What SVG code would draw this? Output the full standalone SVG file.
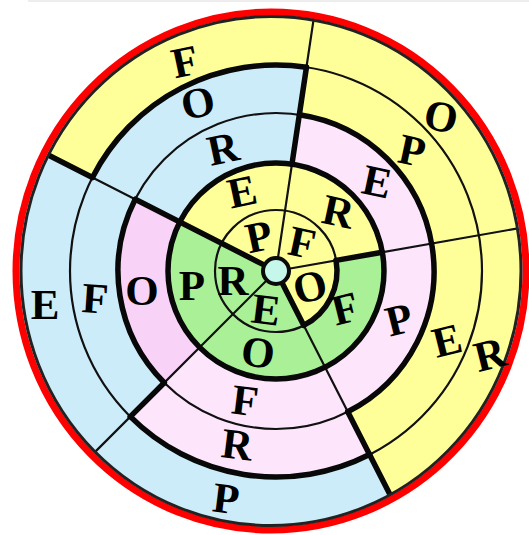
<svg xmlns="http://www.w3.org/2000/svg" width="529" height="535" viewBox="0 0 529 535">
<defs>
<style>
.cell{fill:none;stroke-linecap:butt}
.yo{stroke:#ffff99}.yi{stroke:#ffff99}.bl{stroke:#cdecf9}.pk{stroke:#fde6fb}.pk2{stroke:#f9d3f7}.gr{stroke:#aaf097}
.rA{stroke-width:49}.rB{stroke-width:48}.rC{stroke-width:51}.rD{stroke-width:49}.rE{stroke-width:60}
.thin{fill:none;stroke:#111;stroke-width:2.2}
.thick{fill:none;stroke:#080808;stroke-width:5.5;stroke-linecap:round}
text{font-family:"Liberation Serif","Times New Roman",serif;font-weight:bold;font-size:43px;text-anchor:middle;fill:#000}
</style>
<clipPath id="disk"><ellipse cx="271" cy="271" rx="250.5" ry="255"/></clipPath>
</defs>
<rect x="28" y="0" width="501" height="2" fill="#ededed"/>
<g clip-path="url(#disk)">
<g id="region-yellow-outer">
<path class="cell yo rE" d="M 65.72 163.86 A 236 236 0 1 1 383.14 481.28"/>
<path class="cell yo rD" d="M 302.90 91.00 A 182 182 0 0 1 358.63 433.16"/>
</g>
<g id="region-blue">
<path class="cell bl rE" d="M 383.14 481.28 A 236 236 0 0 1 65.72 163.86"/>
<path class="cell bl rD" d="M 147.31 399.69 A 182 182 0 0 1 302.90 91.00"/>
<path class="cell bl rC" d="M 157.50 210.62 A 133 133 0 0 1 295.66 139.46"/>
</g>
<g id="region-pink">
<path class="cell pk rD" d="M 358.63 433.16 A 182 182 0 0 1 147.31 399.69"/>
<path class="cell pk rC" d="M 295.66 139.46 A 133 133 0 1 1 181.96 365.04"/>
<path class="cell pk2 rC" d="M 181.96 365.04 A 133 133 0 0 1 157.50 210.62"/>
</g>
<g id="region-yellow-inner">
<path class="cell yi rB" d="M 200.71 232.64 A 84.5 84.5 0 0 1 359.22 256.33"/>
<path class="cell yi rA" d="M 243.03 254.20 A 37 37 0 1 1 292.80 303.97"/>
</g>
<g id="region-green">
<path class="cell gr rB" d="M 359.22 256.33 A 84.5 84.5 0 1 1 200.71 232.64"/>
<path class="cell gr rA" d="M 292.80 303.97 A 37 37 0 0 1 243.03 254.20"/>
</g>
<g id="connectors">
<circle class="thin" cx="276" cy="271" r="61"/>
<circle class="thin" cx="276" cy="271" r="158"/>
<circle class="thin" cx="276" cy="271" r="206"/>
<path class="thin" d="M 264.42 265.10 L 39.88 150.69 M 277.92 258.14 L 315.17 8.91 M 288.80 268.74 L 536.97 225.00 M 281.90 282.58 L 396.31 507.12 M 266.81 280.19 L 88.62 458.38"/>
<circle class="thick" cx="276" cy="271" r="108"/>
<path class="thick" d="M 336.07 260.41 A 61 61 0 0 1 303.69 325.35"/>
<path class="thick" d="M 299.35 114.74 A 158 158 0 0 1 347.73 411.78"/>
<path class="thick" d="M 164.28 382.72 A 158 158 0 0 1 135.22 199.27"/>
<path class="thick" d="M 92.45 177.48 A 206 206 0 0 1 306.45 67.27"/>
<path class="thick" d="M 369.52 454.55 A 206 206 0 0 1 130.34 416.66"/>
<path class="thick" d="M 39.88 150.69 L 92.45 177.48 M 135.22 199.27 L 264.42 265.10"/>
<path class="thick" d="M 306.45 67.27 L 291.96 164.19"/>
<path class="thick" d="M 336.07 260.41 L 382.36 252.25"/>
<path class="thick" d="M 396.31 507.12 L 347.73 411.78 M 303.69 325.35 L 281.90 282.58"/>
<path class="thick" d="M 164.28 382.72 L 130.34 416.66"/>
</g>
</g>
<g id="rim">
<ellipse cx="271" cy="271" rx="255" ry="259" fill="none" stroke="#ff0000" stroke-width="7"/>
<ellipse cx="271" cy="271" rx="250" ry="254.5" fill="none" stroke="#222" stroke-width="3"/>
</g>
<g id="hub">
<circle cx="276" cy="271" r="13" fill="#c5f7ea" stroke="#0a0a0a" stroke-width="4"/>
</g>
<g id="letters">
<g id="sector-1">
<text x="185" y="76" transform="rotate(-12 185 62)">F</text>
<text x="198" y="117" transform="rotate(-12 198 103)">O</text>
<text x="223" y="163" transform="rotate(-12 223 149)">R</text>
<text x="242" y="206" transform="rotate(-12 242 192)">E</text>
<text x="259" y="251" transform="rotate(-12 259 237)">P</text>
</g>
<g id="sector-2">
<text x="441" y="131" transform="rotate(12 441 117)">O</text>
<text x="412" y="165" transform="rotate(12 412 151)">P</text>
<text x="377" y="196" transform="rotate(12 377 182)">E</text>
<text x="338" y="226" transform="rotate(12 338 212)">R</text>
<text x="302" y="257" transform="rotate(12 302 243)">F</text>
</g>
<g id="sector-3">
<text x="490" y="369" transform="rotate(-14 490 355)">R</text>
<text x="447" y="355" transform="rotate(-14 447 341)">E</text>
<text x="399" y="334" transform="rotate(-14 399 320)">P</text>
<text x="345" y="323" transform="rotate(-14 345 309)">F</text>
<text x="310" y="301" transform="rotate(-14 310 287)">O</text>
</g>
<g id="sector-4">
<text x="226" y="513" transform="rotate(7 226 499)">P</text>
<text x="237" y="459" transform="rotate(7 237 445)">R</text>
<text x="245" y="415" transform="rotate(7 245 401)">F</text>
<text x="258" y="367" transform="rotate(7 258 353)">O</text>
<text x="266" y="324" transform="rotate(7 266 310)">E</text>
</g>
<g id="sector-5">
<text x="45" y="319">E</text>
<text x="95" y="313" transform="rotate(4 95 299)">F</text>
<text x="142" y="305">O</text>
<text x="192" y="300">P</text>
<text x="233" y="295">R</text>
</g>
</g>
</svg>
